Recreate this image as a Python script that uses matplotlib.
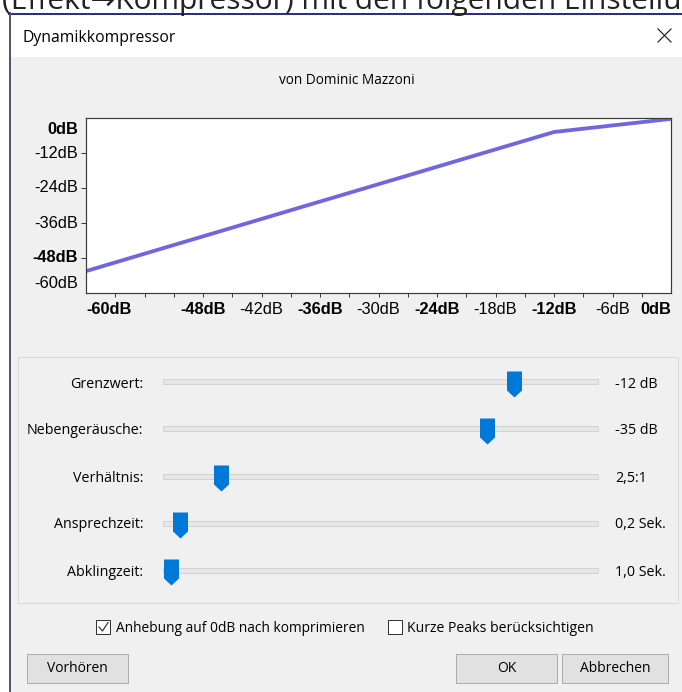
import matplotlib
matplotlib.use("Agg")
import matplotlib.pyplot as plt
import matplotlib.transforms as mtransforms
from matplotlib.patches import Rectangle
from matplotlib.path import Path

# compressor curve (input dB -> output dB)
curve_in = [-60, -12, 0]
curve_out = [-52.5, -4.8, -0.3]

x_minor_ticks = list(range(-57, 0, 3))
x_label_pos = [-60, -48, -42, -36, -30, -24, -18, -12, -6, 0]
x_labels = ['-60dB', '-48dB', '-42dB', '-36dB', '-30dB', '-24dB', '-18dB', '-12dB', '-6dB', '0dB']
x_bold = [True, True, False, True, False, True, False, True, False, True]

y_ticks = [-12, -24, -36, -48]
y_label_pos = [0, -12, -24, -36, -48, -60]
y_labels = ['0dB', '-12dB', '-24dB', '-36dB', '-48dB', '-60dB']
y_bold = [True, False, False, False, True, False]

slider_names = ['Grenzwert:', 'Nebengeräusche:', 'Verhältnis:', 'Ansprechzeit:', 'Abklingzeit:']
slider_values = [-12, -35, 2.5, 0.2, 1.0]
slider_min = [-60, -80, 1.5, 0.1, 1.0]
slider_max = [-1, -20, 10, 5.0, 30]
slider_text = ['-12 dB', '-35 dB', '2,5:1', '0,2 Sek.', '1,0 Sek.']

W, H = 682, 692
DLG_FONT = ['Open Sans', 'DejaVu Sans']
GRAPH_FONT = ['Liberation Sans', 'DejaVu Sans']

fig = plt.figure(figsize=(W / 100, H / 100), dpi=100)
fig.patch.set_facecolor('white')


def px_axes(x0, y0, x1, y1, **kw):
    return fig.add_axes([x0 / W, 1 - y1 / H, (x1 - x0) / W, (y1 - y0) / H], **kw)


def pt(px):
    return px * 0.72


# --- dialog chrome, drawn in pixel coordinates ---
ui = px_axes(0, 0, W, H)
ui.set_xlim(0, W)
ui.set_ylim(H, 0)
ui.axis('off')

# the page text above the dialog is cut off by the screenshot's top edge
ui.text(2, 9, '(Effekt\u2192Kompressor) mit den folgenden Einstellungen', fontsize=21.5,
        family=DLG_FONT, color='#222222', va='baseline', ha='left')
ui.add_patch(Rectangle((10, 14), W - 10, H - 14, facecolor='#f0f0f0', edgecolor='none'))
ui.add_patch(Rectangle((10, 14), W - 10, 43, facecolor='white', edgecolor='none'))
ui.plot([9, W], [13.5, 13.5], color='#2d2d8a', lw=pt(2))
ui.plot([10, 10], [13, H], color='#55556a', lw=pt(2))

ui.text(22, 38, 'Dynamikkompressor', fontsize=11.3, family=DLG_FONT, va='center', color='black')
ui.plot([658, 671], [29, 42], color='#222222', lw=pt(1.2))
ui.plot([658, 671], [42, 29], color='#222222', lw=pt(1.2))
ui.text(347, 81, 'von Dominic Mazzoni', fontsize=9.8, family=DLG_FONT, ha='center', va='center')

# slider panel
ui.add_patch(Rectangle((18, 357), 660, 246, facecolor='none', edgecolor='#d9d9d9', lw=pt(1)))

# checkboxes
ui.add_patch(Rectangle((96, 620), 14, 14, facecolor='white', edgecolor='#333333', lw=pt(1)))
ui.plot([99, 102.5, 108], [627, 631, 622.5], color='#333333', lw=pt(1.2))
ui.text(116, 628, 'Anhebung auf 0dB nach komprimieren', fontsize=9.95, family=DLG_FONT, va='center')
ui.add_patch(Rectangle((388, 620), 14, 14, facecolor='white', edgecolor='#333333', lw=pt(1)))
ui.text(407, 628, 'Kurze Peaks berücksichtigen', fontsize=10.1, family=DLG_FONT, va='center')

# buttons
for bx0, bx1, label in [(27, 128, 'Vorhören'), (456, 557, 'OK'), (562, 668, 'Abbrechen')]:
    ui.add_patch(Rectangle((bx0, 654), bx1 - bx0, 29, facecolor='#e1e1e1', edgecolor='#adadad', lw=pt(1)))
    ui.text((bx0 + bx1) / 2, 669, label, fontsize=10, family=DLG_FONT, ha='center', va='center')

# --- compressor graph ---
ax = px_axes(86, 118, 671, 293)
ax.set_facecolor('white')
ax.plot(curve_in, curve_out, color='#6f66e0', lw=pt(3.8), solid_capstyle='butt')
ax.set_xlim(-60, 0)
ax.set_ylim(-60, 0)
for s in ax.spines.values():
    s.set_color('#3a3a3a')
    s.set_linewidth(pt(1.2))
ax.set_xticks(x_minor_ticks)
ax.set_xticklabels([])
ax.set_yticks(y_ticks)
ax.set_yticklabels([])
ax.tick_params(axis='x', direction='out', length=pt(4), width=pt(1), color='#3a3a3a')
ax.tick_params(axis='y', direction='out', length=pt(5), width=pt(1), color='#3a3a3a')

for xv, lab, b in zip(x_label_pos, x_labels, x_bold):
    ha = 'left' if xv == x_label_pos[0] else ('right' if xv == x_label_pos[-1] else 'center')
    ax.annotate(lab, (xv, 0), xycoords=('data', 'axes fraction'), xytext=(0, -pt(16)),
                textcoords='offset points', ha=ha, va='center', fontsize=11.8,
                family=GRAPH_FONT, fontweight='bold' if b else 'normal', color='black')

for yv, lab, b in zip(y_label_pos, y_labels, y_bold):
    dy = -pt(11) if yv == y_label_pos[0] else (pt(10) if yv == y_label_pos[-1] else 0)
    ax.annotate(lab, (0, yv), xycoords=('axes fraction', 'data'), xytext=(-pt(8), dy),
                textcoords='offset points', ha='right', va='center', fontsize=11.8,
                family=GRAPH_FONT, fontweight='bold' if b else 'normal', color='black')

# --- sliders ---
thumb = Path([(-7.5, 11), (7.5, 11), (7.5, -8), (0, -15), (-7.5, -8), (-7.5, 11)],
             [Path.MOVETO, Path.LINETO, Path.LINETO, Path.LINETO, Path.LINETO, Path.CLOSEPOLY])
rows = [382, 429, 476, 523, 570]
for row, name, val, lo, hi, txt in zip(rows, slider_names, slider_values, slider_min, slider_max, slider_text):
    sax = px_axes(171, row - 15, 592, row + 15)
    sax.set_xlim(lo, hi)
    sax.set_ylim(-15, 15)
    sax.axis('off')
    blend = mtransforms.blended_transform_factory(sax.transAxes, sax.transData)
    sax.add_patch(Rectangle((-8 / 421, -2.5), 435 / 421, 5, transform=blend, facecolor='#e6e6e6',
                            edgecolor='#d3d3d3', lw=pt(1), clip_on=False))
    sax.plot([val], [0], marker=thumb, markersize=pt(30), color='#0078d7', markeredgewidth=0,
             clip_on=False)
    ui.text(143, row + 2, name, fontsize=10.3, family=DLG_FONT, ha='right', va='center')
    ui.text(615, row + 2, txt, fontsize=10.3, family=DLG_FONT, ha='left', va='center')

fig.savefig('out.png', dpi=100)
